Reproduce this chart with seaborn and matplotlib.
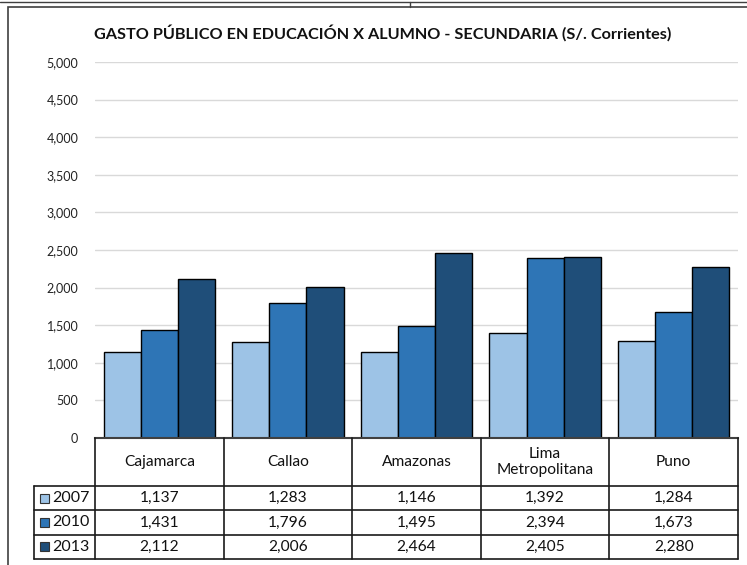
import matplotlib.pyplot as plt
import matplotlib.patches as mpatches
import seaborn as sns
import pandas as pd

# datos del gráfico
regiones = ['Cajamarca', 'Callao', 'Amazonas', 'Lima\nMetropolitana', 'Puno']
anios = ['2007', '2010', '2013']
gasto_2007 = [1137, 1283, 1146, 1392, 1284]
gasto_2010 = [1431, 1796, 1495, 2394, 1673]
gasto_2013 = [2112, 2006, 2464, 2405, 2280]
colores = ['#9DC3E6', '#2E75B6', '#1F4E79']

df = pd.DataFrame({
    'region': regiones * 3,
    'anio': [a for a in anios for _ in regiones],
    'gasto': gasto_2007 + gasto_2010 + gasto_2013,
})

sns.set_style('white')
plt.rcParams['font.family'] = ['Lato', 'DejaVu Sans']

W, H = 747, 565
fig = plt.figure(figsize=(W / 100, H / 100), dpi=100)

# marco exterior (solo borde izquierdo y superior visibles)
fig.add_artist(mpatches.Rectangle((8 / W, -0.05), 1.0, 1.05 - 7 / H, transform=fig.transFigure,
                                  fill=False, edgecolor='#404040', linewidth=1.2))
fig.add_artist(plt.Line2D([0, 1], [1 - 1.5 / H, 1 - 1.5 / H], transform=fig.transFigure,
                          color='#404040', linewidth=1))
fig.add_artist(plt.Line2D([410 / W, 410 / W], [1 - 1.5 / H, 1 - 7 / H], transform=fig.transFigure,
                          color='#404040', linewidth=1))

x0, x1, y0, y1 = 95, 738, 62, 438
ax = fig.add_axes([x0 / W, 1 - y1 / H, (x1 - x0) / W, (y1 - y0) / H])
sns.barplot(data=df, x='region', y='gasto', hue='anio', palette=colores, saturation=1,
            edgecolor='black', linewidth=1, width=0.865, ax=ax, legend=False)
ax.set_xlim(-0.5, 4.5)
ax.set_ylim(0, 5000)
ax.set_yticks(range(0, 5001, 500))
ax.set_yticklabels([f'{v:,}' for v in range(0, 5001, 500)], fontsize=9, color='#222222')
ax.tick_params(axis='y', length=0, pad=12)
ax.set_xticks([])
ax.set_xlabel('')
ax.set_ylabel('')
ax.yaxis.grid(True, color='#D9D9D9', linewidth=1)
ax.set_axisbelow(True)
for s in ['left', 'right', 'top']:
    ax.spines[s].set_visible(False)
ax.spines['bottom'].set_color('#404040')
ax.spines['bottom'].set_linewidth(1.5)

fig.text(383 / W, 1 - 33 / H, 'GASTO PÚBLICO EN EDUCACIÓN X ALUMNO - SECUNDARIA (S/. Corrientes)',
         ha='center', va='center', fontsize=11.7, fontweight='bold', color='#111111')

# tabla de datos
col_w = (x1 - x0) / 5
xl = -0.5 - (x0 - 34) / col_w
tb = fig.add_axes([34 / W, 1 - 559 / H, (x1 - 34) / W, (559 - 438) / H])
tb.set_xlim(xl, 4.5)
tb.set_ylim(559, 438)
tb.axis('off')
filas = [438, 486, 510.3, 534.7, 559]
lc = '#1a1a1a'
for yy in filas[1:]:
    tb.plot([xl, 4.5], [yy, yy], color=lc, linewidth=1.2, clip_on=False)
for i in range(6):
    tb.plot([i - 0.5, i - 0.5], [438, 559], color=lc, linewidth=1.2, clip_on=False)
tb.plot([xl, xl], [486, 559], color=lc, linewidth=1.2, clip_on=False)

for i, r in enumerate(regiones):
    tb.text(i, (438 + 486) / 2, r, ha='center', va='center', fontsize=11.2,
            color='#111111', linespacing=1.25)
for j, (a, vals) in enumerate(zip(anios, [gasto_2007, gasto_2010, gasto_2013])):
    yc = (filas[j + 1] + filas[j + 2]) / 2
    tb.add_patch(mpatches.Rectangle((xl + 0.05, yc + 4.5), 0.068, -9, facecolor=colores[j],
                                    edgecolor='#333333', linewidth=0.8, clip_on=False))
    tb.text(xl + 0.145, yc, a, ha='left', va='center', fontsize=11.5, color='#111111')
    for i, v in enumerate(vals):
        tb.text(i, yc, f'{v:,}', ha='center', va='center', fontsize=11.2, color='#111111')

fig.savefig('out.png', dpi=100)
